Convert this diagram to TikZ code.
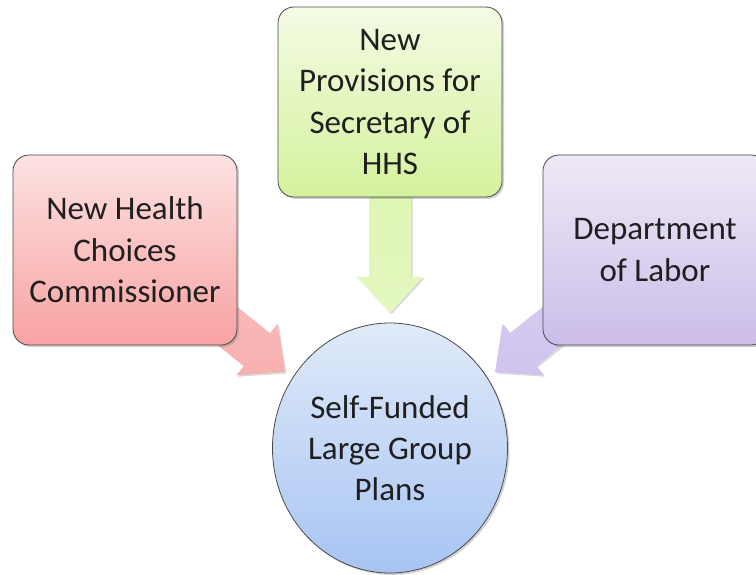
\documentclass[tikz,border=0pt]{standalone}
\usepackage{fontspec}
\setmainfont{Carlito}
\usetikzlibrary{calc,shadows,shapes.geometric,backgrounds}
\definecolor{pinktop}{HTML}{FDE2E2}
\definecolor{pinkbot}{HTML}{F8A2A2}
\definecolor{greentop}{HTML}{F4FBE4}
\definecolor{greenbot}{HTML}{D4F29C}
\definecolor{purptop}{HTML}{EEE9F6}
\definecolor{purpbot}{HTML}{CBBDE8}
\definecolor{bluetop}{HTML}{E0EAF9}
\definecolor{bluebot}{HTML}{A8C4F3}
\definecolor{pinkarr}{HTML}{F8B0B0}
\definecolor{greenarr}{HTML}{DDF6B0}
\definecolor{purparr}{HTML}{D0C3EE}
\definecolor{edgegray}{HTML}{4A4A4A}
\newcommand{\blockarrow}[3]{%
  \coordinate (#2h) at ($(#3)!36pt!(#2)$);
  \path[#1] ($(#2)!21pt!90:(#3)$) -- ($(#2h)!21pt!90:(#3)$) -- ($(#2h)!33pt!90:(#3)$) -- (#3) -- ($(#2h)!33pt!-90:(#3)$) -- ($(#2h)!21pt!-90:(#3)$) -- ($(#2)!21pt!-90:(#3)$) -- cycle;}
\begin{document}
\begin{tikzpicture}[x=1pt,y=-1pt,
  boxnode/.style={draw=edgegray, line width=0.8pt, rounded corners=16pt,
    minimum width=224pt, minimum height=190pt, align=center, inner sep=0pt,
    font=\fontsize{33}{41.5}\selectfont, text=black!88,
    drop shadow={opacity=0.35, shadow xshift=2pt, shadow yshift=-2pt}},
  circnode/.style={ellipse, draw=edgegray, line width=0.8pt,
    minimum width=235pt, minimum height=250pt, align=center, inner sep=0pt,
    font=\fontsize{33}{41}\selectfont, text=black!88,
    top color=bluetop, bottom color=bluebot,
    drop shadow={opacity=0.35, shadow xshift=2pt, shadow yshift=-2pt}},
  arrowshape/.style={drop shadow={opacity=0.3, shadow xshift=1.5pt, shadow yshift=-1.5pt}}
]
\useasboundingbox (0,0) rectangle (756,575);

\node[boxnode, top color=pinktop, bottom color=pinkbot] (lbox) at (125,250)
  {New Health\\Choices\\Commissioner};
\node[boxnode, top color=greentop, bottom color=greenbot] (gbox) at (390,102)
  {New\\Provisions for\\Secretary of\\HHS};
\node[boxnode, top color=purptop, bottom color=purpbot] (rbox) at (655,250)
  {Department\\of Labor};
\node[circnode] (circ) at (390,448) {Self-Funded\\Large Group\\Plans};

\coordinate (ls) at (185,292);
\coordinate (lt) at (285,372);
\coordinate (gs) at (390,150);
\coordinate (gt) at (390,313);
\coordinate (rs) at (595,292);
\coordinate (rt) at (495,372);

\begin{pgfonlayer}{background}
  \blockarrow{arrowshape, top color=pinkarr!85!white, bottom color=pinkarr}{ls}{lt}
  \blockarrow{arrowshape, top color=greenarr, bottom color=greenarr!80!white}{gs}{gt}
  \blockarrow{arrowshape, top color=purparr!85!white, bottom color=purparr}{rs}{rt}
\end{pgfonlayer}
\end{tikzpicture}
\end{document}
